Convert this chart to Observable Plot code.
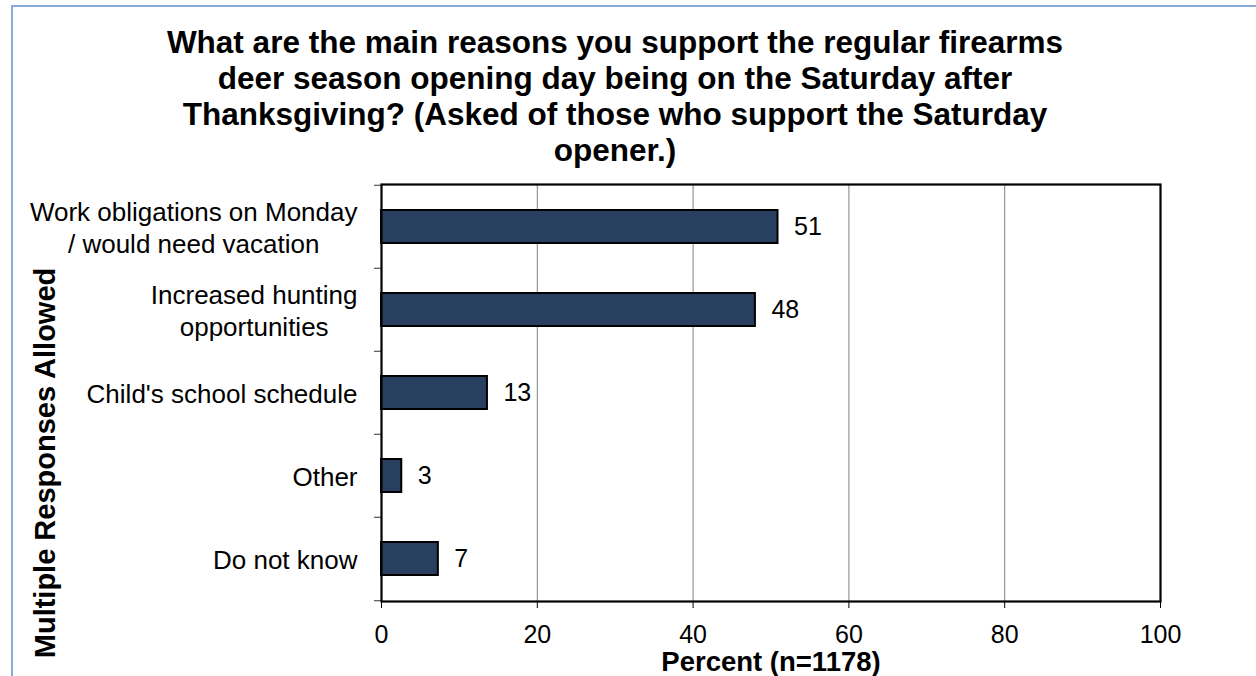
<!DOCTYPE html>
<html>
<head>
<meta charset="utf-8">
<script src="https://cdn.jsdelivr.net/npm/d3@7"></script>
<script src="https://cdn.jsdelivr.net/npm/@observablehq/plot@0.6"></script>
<style>
  html, body { margin: 0; padding: 0; background: #fff; }
  #wrap { position: relative; width: 1256px; height: 676px; overflow: hidden; font-family: "Liberation Sans", Arial, sans-serif; background: #fff; }
  .bline { position: absolute; background: #85aadb; z-index: 5; }
  #btop { left: 11px; top: 5px; width: 1245px; height: 1.5px; }
  #bleft { left: 11px; top: 5px; width: 1.5px; height: 671px; }
  #title { position: absolute; left: 115px; width: 1000px; top: 24px; text-align: center; font-weight: bold; font-size: 31.5px; line-height: 36px; color: #000; z-index: 3; }
  #chart { position: absolute; left: 0; top: 0; z-index: 1; }
</style>
</head>
<body>
<div id="wrap">
  <div id="chart"></div>
  <div id="title">What are the main reasons you support the regular firearms<br>deer season opening day being on the Saturday after<br>Thanksgiving? (Asked of those who support the Saturday<br>opener.)</div>
  <div class="bline" id="btop"></div>
  <div class="bline" id="bleft"></div>
</div>
<script>
const categories = [
  "Work obligations on Monday\n/ would need vacation",
  "Increased hunting\nopportunities",
  "Child's school schedule",
  "Other",
  "Do not know"
];
const values = [50.9, 48.0, 13.6, 2.6, 7.3];
const valueLabels = ["51", "48", "13", "3", "7"];
const xTicks = [0, 20, 40, 60, 80, 100];
const xLabel = "Percent (n=1178)";
const yLabel = "Multiple Responses Allowed";

const data = categories.map((c, i) => ({category: c, value: values[i], label: valueLabels[i]}));

const FONT = "'Liberation Sans', Arial, sans-serif";
const W = 1256, H = 676;
const mLeft = 381, mRight = 96, mTop = 184, mBottom = 75;
const step = (H - mTop - mBottom) / categories.length;

// measure label lines for centered multi-line labels
const ctx = document.createElement("canvas").getContext("2d");
ctx.font = "26px " + FONT;
const labelMarks = categories.map(c => {
  const lines = c.split("\n");
  const w = Math.max(...lines.map(l => ctx.measureText(l).width));
  const multi = lines.length > 1;
  return Plot.text([c], {
    y: d => d,
    text: d => d,
    frameAnchor: "left",
    textAnchor: multi ? "middle" : "end",
    dx: multi ? -24 - w / 2 : -24,
    lineHeight: 1.24,
    fontSize: 26,
    fill: "black"
  });
});

const chart = Plot.plot({
  width: W,
  height: H,
  marginLeft: mLeft,
  marginRight: mRight,
  marginTop: mTop,
  marginBottom: mBottom,
  style: {fontFamily: FONT, fontSize: "25px", color: "black", background: "transparent"},
  x: {domain: [0, 100], ticks: xTicks, tickSize: 7, tickPadding: 17, label: null},
  y: {domain: categories, paddingInner: 0.6, paddingOuter: 0.3, axis: null},
  marks: [
    Plot.ruleX(xTicks.filter(d => d > 0 && d < 100), {stroke: "#808080", strokeWidth: 1}),
    Plot.barX(data, {x: "value", y: "category", fill: "#283f60", stroke: "black", strokeWidth: 2}),
    Plot.text(data, {x: "value", y: "category", text: "label", textAnchor: "start", dx: 16, fontSize: 25, fill: "black"}),
    Plot.ruleY(categories, {y: d => d, x1: -0.9, x2: 0, dy: -step / 2, stroke: "#555", strokeWidth: 1.2}),
    Plot.ruleY(categories.slice(-1), {y: d => d, x1: -0.9, x2: 0, dy: step / 2, stroke: "#555", strokeWidth: 1.2}),
    ...labelMarks,
    Plot.frame({stroke: "black", strokeWidth: 2.2}),
    Plot.text([xLabel], {frameAnchor: "bottom", lineAnchor: "middle", textAnchor: "middle", dy: 61, text: d => d, fontWeight: "bold", fontSize: 27.5, fill: "black"}),
    Plot.text([yLabel], {frameAnchor: "left", lineAnchor: "middle", textAnchor: "middle", dx: 45 - mLeft, dy: 70, rotate: -90, text: d => d, fontWeight: "bold", fontSize: 29, fill: "black"})
  ]
});
document.getElementById("chart").appendChild(chart);
</script>
</body>
</html>
